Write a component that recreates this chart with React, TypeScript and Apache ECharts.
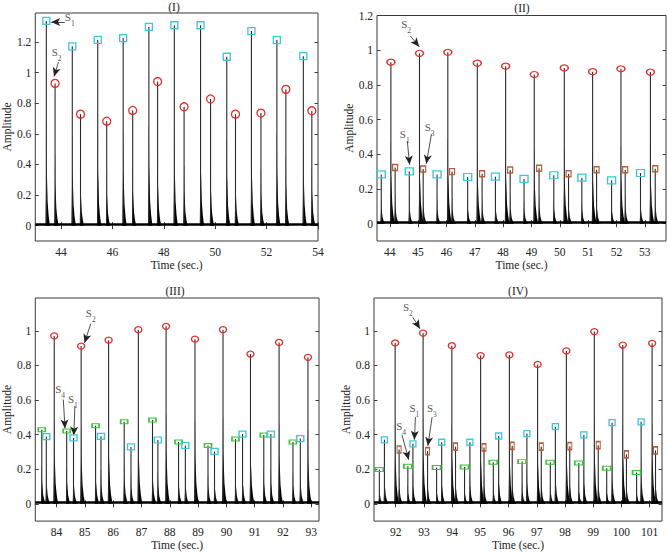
import React, { useEffect, useRef } from 'react';
import * as echarts from 'echarts';

const FONT = '"Liberation Serif", "Times New Roman", serif';
const TXT = '#222';
const C_RED = '#e0302c';
const C_CYAN = '#3cc8d6';
const C_BROWN = '#b0603c';
const C_GREEN = '#3ec43e';

// ---------- Panel I ----------
const P1_S1_T = [43.43, 44.44, 45.43, 46.42, 47.42, 48.41, 49.43, 50.45, 51.41, 52.40, 53.43];
const P1_S1_A = [1.338, 1.172, 1.215, 1.226, 1.299, 1.31, 1.31, 1.104, 1.272, 1.213, 1.108];
const P1_S2_T = [43.77, 44.76, 45.78, 46.79, 47.76, 48.79, 49.82, 50.79, 51.78, 52.75, 53.76];
const P1_S2_A = [0.93, 0.729, 0.683, 0.753, 0.942, 0.777, 0.828, 0.729, 0.736, 0.891, 0.751];
const P1_XTICKS = [44, 46, 48, 50, 52, 54];
const P1_YTICKS = [0, 0.2, 0.4, 0.6, 0.8, 1, 1.2];

// ---------- Panel II ----------
const P2_S1_T = [43.7, 44.69, 45.67, 46.75, 47.73, 48.74, 49.79, 50.78, 51.83, 52.85];
const P2_S1_A = [0.284, 0.301, 0.284, 0.269, 0.271, 0.258, 0.279, 0.265, 0.25, 0.292];
const P2_S2_T = [44.04, 45.05, 46.05, 47.09, 48.09, 49.1, 50.16, 51.16, 52.16, 53.2];
const P2_S2_A = [0.931, 0.982, 0.988, 0.925, 0.908, 0.86, 0.898, 0.876, 0.893, 0.874];
const P2_S3_T = [44.19, 45.18, 46.2, 47.26, 48.25, 49.27, 50.31, 51.3, 52.31, 53.37];
const P2_S3_A = [0.324, 0.315, 0.3, 0.288, 0.309, 0.319, 0.288, 0.311, 0.311, 0.317];
const P2_XTICKS = [44, 45, 46, 47, 48, 49, 50, 51, 52, 53];
const P2_YTICKS = [0, 0.2, 0.4, 0.6, 0.8, 1, 1.2];

// ---------- Panel III ----------
const P3_S4_T = [83.48, 84.36, 85.38, 86.39, 87.39, 88.31, 89.35, 90.32, 91.32, 92.35];
const P3_S4_A = [0.428, 0.421, 0.451, 0.474, 0.484, 0.358, 0.337, 0.375, 0.398, 0.358];
const P3_S1_T = [83.64, 84.6, 85.57, 86.63, 87.58, 88.55, 89.58, 90.57, 91.57, 92.61];
const P3_S1_A = [0.389, 0.381, 0.39, 0.329, 0.369, 0.337, 0.303, 0.403, 0.403, 0.377];
const P3_S2_T = [83.92, 84.87, 85.84, 86.89, 87.87, 88.89, 89.88, 90.85, 91.86, 92.88];
const P3_S2_A = [0.971, 0.912, 0.946, 1.007, 1.026, 0.952, 1.007, 0.866, 0.933, 0.847];
const P3_XTICKS = [84, 85, 86, 87, 88, 89, 90, 91, 92, 93];
const P3_YTICKS = [0, 0.2, 0.4, 0.6, 0.8, 1];

// ---------- Panel IV ----------
const P4_S4_T = [91.42, 92.43, 93.45, 94.44, 95.46, 96.48, 97.48, 98.49, 99.48, 100.54];
const P4_S4_A = [0.198, 0.217, 0.21, 0.213, 0.24, 0.244, 0.24, 0.236, 0.206, 0.181];
const P4_S1_T = [91.6, 92.61, 93.63, 94.63, 95.65, 96.65, 97.66, 98.67, 99.67, 100.7];
const P4_S1_A = [0.37, 0.347, 0.356, 0.356, 0.392, 0.406, 0.446, 0.398, 0.469, 0.474];
const P4_S2_T = [91.98, 92.97, 93.99, 95.01, 96.03, 97.03, 98.05, 99.04, 100.05, 101.09];
const P4_S2_A = [0.93, 0.987, 0.914, 0.857, 0.861, 0.806, 0.884, 0.996, 0.918, 0.928];
const P4_S3_T = [92.12, 93.13, 94.12, 95.13, 96.13, 97.16, 98.17, 99.18, 100.18, 101.21];
const P4_S3_A = [0.314, 0.305, 0.33, 0.326, 0.335, 0.33, 0.333, 0.339, 0.286, 0.309];
const P4_XTICKS = [92, 93, 94, 95, 96, 97, 98, 99, 100, 101];
const P4_YTICKS = [0, 0.2, 0.4, 0.6, 0.8, 1];

// Annotations: [labelT, labelV, subscript, arrowFromT, arrowFromV, arrowToT, arrowToV]
const P1_NOTES: [number, number, string, number, number, number, number][] = [
  [44.34, 1.347, '1', 44.15, 1.332, 43.62, 1.332],
  [43.83, 1.117, '2', 43.9, 1.069, 43.73, 0.975],
];
const P2_NOTES: [number, number, string, number, number, number, number][] = [
  [44.58, 1.135, '2', 44.72, 1.083, 45.04, 1.02],
  [44.53, 0.505, '1', 44.62, 0.476, 44.7, 0.34],
  [45.41, 0.543, '3', 45.47, 0.515, 45.29, 0.345],
];
const P3_NOTES: [number, number, string, number, number, number, number][] = [
  [85.21, 1.089, '2', 85.21, 1.042, 84.99, 0.93],
  [84.13, 0.651, '4', 84.24, 0.603, 84.3, 0.435],
  [84.58, 0.594, '1', 84.65, 0.566, 84.61, 0.395],
];
const P4_NOTES: [number, number, string, number, number, number, number][] = [
  [92.43, 1.124, '2', 92.6, 1.08, 92.86, 1.012],
  [92.66, 0.539, '1', 92.7, 0.501, 92.66, 0.37],
  [93.28, 0.539, '3', 93.29, 0.501, 93.14, 0.335],
  [92.19, 0.438, '4', 92.22, 0.4, 92.46, 0.255],
];

type Marker = { t: number[]; a: number[]; color: string; symbol: string; size: number[] };
type Panel = {
  title: string;
  titleX: number;
  titleY: number;
  grid: { left: number; top: number; width: number; height: number };
  xMin: number; xMax: number; xTicks: number[];
  yMin: number; yMax: number; yTicks: number[];
  markers: Marker[];
  notes: [number, number, string, number, number, number, number][];
};

const PANELS: Panel[] = [
  {
    title: '(I)', titleX: 174, titleY: 7,
    grid: { left: 30, top: 13, width: 288, height: 228 },
    xMin: 43, xMax: 54, xTicks: P1_XTICKS, yMin: -0.1, yMax: 1.39, yTicks: P1_YTICKS,
    markers: [
      { t: P1_S1_T, a: P1_S1_A, color: C_CYAN, symbol: 'rect', size: [7, 7] },
      { t: P1_S2_T, a: P1_S2_A, color: C_RED, symbol: 'circle', size: [8, 8] },
    ],
    notes: P1_NOTES,
  },
  {
    title: '(II)', titleX: 522, titleY: 8,
    grid: { left: 377, top: 15.5, width: 289, height: 225.5 },
    xMin: 43.55, xMax: 53.75, xTicks: P2_XTICKS, yMin: -0.1, yMax: 1.2, yTicks: P2_YTICKS,
    markers: [
      { t: P2_S1_T, a: P2_S1_A, color: C_CYAN, symbol: 'rect', size: [8, 7] },
      { t: P2_S2_T, a: P2_S2_A, color: C_RED, symbol: 'circle', size: [8, 6] },
      { t: P2_S3_T, a: P2_S3_A, color: C_BROWN, symbol: 'rect', size: [5, 6] },
    ],
    notes: P2_NOTES,
  },
  {
    title: '(III)', titleX: 175, titleY: 291,
    grid: { left: 31, top: 298, width: 288, height: 227 },
    xMin: 83.25, xMax: 93.27, xTicks: P3_XTICKS, yMin: -0.1, yMax: 1.19, yTicks: P3_YTICKS,
    markers: [
      { t: P3_S4_T, a: P3_S4_A, color: C_GREEN, symbol: 'rect', size: [7, 4] },
      { t: P3_S1_T, a: P3_S1_A, color: C_CYAN, symbol: 'rect', size: [7, 6] },
      { t: P3_S2_T, a: P3_S2_A, color: C_RED, symbol: 'circle', size: [7, 6] },
    ],
    notes: P3_NOTES,
  },
  {
    title: '(IV)', titleX: 518, titleY: 291,
    grid: { left: 374, top: 298, width: 288, height: 227 },
    xMin: 91.23, xMax: 101.44, xTicks: P4_XTICKS, yMin: -0.1, yMax: 1.19, yTicks: P4_YTICKS,
    markers: [
      { t: P4_S4_T, a: P4_S4_A, color: C_GREEN, symbol: 'rect', size: [8, 4] },
      { t: P4_S1_T, a: P4_S1_A, color: C_CYAN, symbol: 'rect', size: [6, 6] },
      { t: P4_S2_T, a: P4_S2_A, color: C_RED, symbol: 'circle', size: [7, 6] },
      { t: P4_S3_T, a: P4_S3_A, color: C_BROWN, symbol: 'rect', size: [4, 7] },
    ],
    notes: P4_NOTES,
  },
];

function buildOption() {
  const grid: any[] = [];
  const xAxis: any[] = [];
  const yAxis: any[] = [];
  const series: any[] = [];
  const graphic: any[] = [];

  PANELS.forEach((p, i) => {
    grid.push({ ...p.grid, show: true, borderColor: '#3a3a3a', borderWidth: 1, backgroundColor: 'transparent' });
    const xa = 2 * i;
    const ya = 2 * i;
    const tickCommon = { inside: true, length: 3.5, lineStyle: { color: '#3a3a3a', width: 1 } };
    xAxis.push({
      type: 'value', gridIndex: i, position: 'bottom', min: p.xMin, max: p.xMax,
      axisLine: { show: false }, splitLine: { show: false },
      axisTick: { ...tickCommon, customValues: p.xTicks },
      axisLabel: { customValues: p.xTicks, margin: 5, fontFamily: FONT, fontSize: 11.5, color: TXT },
      name: 'Time (sec.)', nameLocation: 'middle', nameGap: 15,
      nameTextStyle: { fontFamily: FONT, fontSize: 11.5, color: TXT },
    });
    xAxis.push({
      type: 'value', gridIndex: i, position: 'top', min: p.xMin, max: p.xMax,
      axisLine: { show: false }, splitLine: { show: false },
      axisTick: { ...tickCommon, customValues: p.xTicks },
      axisLabel: { show: false },
    });
    yAxis.push({
      type: 'value', gridIndex: i, position: 'left', min: p.yMin, max: p.yMax,
      axisLine: { show: false }, splitLine: { show: false },
      axisTick: { ...tickCommon, customValues: p.yTicks },
      axisLabel: { customValues: p.yTicks, margin: 4, fontFamily: FONT, fontSize: 11.5, color: TXT },
      name: 'Amplitude', nameLocation: 'middle', nameGap: 19,
      nameTextStyle: { fontFamily: FONT, fontSize: 11.5, color: TXT },
    });
    yAxis.push({
      type: 'value', gridIndex: i, position: 'right', min: p.yMin, max: p.yMax,
      axisLine: { show: false }, splitLine: { show: false },
      axisTick: { ...tickCommon, customValues: p.yTicks },
      axisLabel: { show: false },
    });

    // spikes of the envelope, one per detected sound
    const events: number[][] = [];
    p.markers.forEach((m) => m.t.forEach((t, k) => events.push([t, m.a[k]])));
    events.sort((u, v) => u[0] - v[0]);
    series.push({
      type: 'custom', xAxisIndex: xa, yAxisIndex: ya, clip: true, z: 2,
      data: events,
      renderItem: (params: any, api: any) => {
        const t = api.value(0) as number;
        const a = api.value(1) as number;
        const pt = (dt: number, f: number) => api.coord([t + dt, a * f]);
        const b = api.coord([t, 0]);
        const top = api.coord([t, a]);
        return {
          type: 'group',
          children: [
            {
              type: 'polygon',
              shape: {
                points: [pt(-0.03, 0), pt(-0.008, 0.25), pt(-0.003, 0.5), pt(0.004, 0.5), pt(0.01, 0.3),
                  pt(0.025, 0.24), pt(0.05, 0.12), pt(0.09, 0.05), pt(0.14, 0)],
              },
              style: { fill: '#000' },
            },
            {
              type: 'line',
              shape: { x1: b[0], y1: b[1], x2: top[0], y2: top[1] },
              style: { stroke: '#2a2a2a', lineWidth: 1.1 },
            },
          ],
        };
      },
      markLine: {
        silent: true, symbol: ['none', 'none'], label: { show: false },
        lineStyle: { color: '#000', width: 2.5, type: 'solid' },
        data: [{ yAxis: 0.009 }],
      },
    });

    p.markers.forEach((m) => {
      series.push({
        type: 'scatter', xAxisIndex: xa, yAxisIndex: ya, z: 5,
        symbol: m.symbol, symbolSize: m.size,
        itemStyle: { color: 'rgba(0,0,0,0)', borderColor: m.color, borderWidth: 1.3, opacity: 1 },
        data: m.t.map((t, k) => [t, m.a[k]]),
      });
    });

    series.push({
      type: 'scatter', xAxisIndex: xa, yAxisIndex: ya, z: 6,
      symbol: 'circle', symbolSize: 1, itemStyle: { color: 'rgba(0,0,0,0)' },
      data: p.notes.map((n) => ({ value: [n[0], n[1]], name: n[2] })),
      label: {
        show: true, position: 'inside',
        formatter: (q: any) => `{s|S}{b|${q.name}}`,
        rich: {
          s: { fontFamily: FONT, fontSize: 11, color: TXT, lineHeight: 16, verticalAlign: 'top' },
          b: { fontFamily: FONT, fontSize: 7.5, color: TXT, lineHeight: 16, verticalAlign: 'bottom' },
        },
      },
      markLine: {
        silent: true, symbol: ['none', 'arrow'], symbolSize: [6, 9], label: { show: false },
        lineStyle: { color: '#222', width: 0.8, type: 'solid' },
        data: p.notes.map((n) => [{ coord: [n[3], n[4]] }, { coord: [n[5], n[6]] }]),
      },
    });

    graphic.push({
      type: 'text', x: p.titleX, y: p.titleY,
      style: { text: p.title, fontFamily: FONT, fontSize: 11.5, fill: TXT, textAlign: 'center', textVerticalAlign: 'middle' },
    });
  });

  return { animation: false, backgroundColor: '#fff', grid, xAxis, yAxis, series, graphic };
}

export default function App() {
  const ref = useRef<HTMLDivElement>(null);
  useEffect(() => {
    if (!ref.current) return;
    const chart = echarts.init(ref.current, undefined, { renderer: 'svg' });
    chart.setOption(buildOption() as any);
    return () => chart.dispose();
  }, []);
  return (
    <div
      ref={ref}
      style={{ position: 'fixed', left: 0, top: 0, width: 667, height: 552, background: '#fff' }}
    />
  );
}
